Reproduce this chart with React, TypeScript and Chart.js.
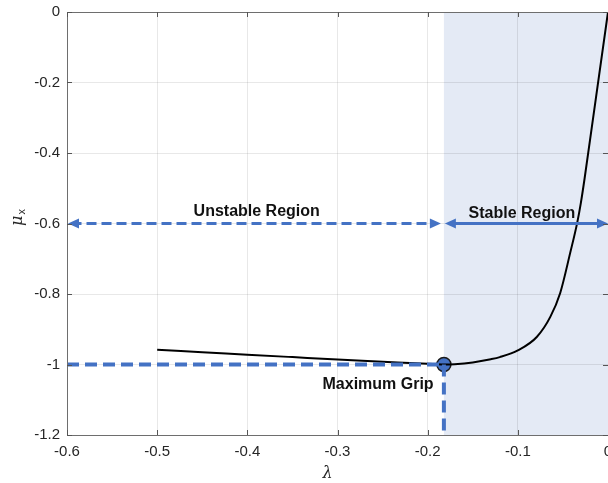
import React, { useEffect, useRef } from "react";
import { Chart, registerables } from "chart.js";

Chart.register(...registerables);

// Friction curve (slip λ vs. μx)
const lambdaValues = [-0.5, -0.45, -0.4, -0.35, -0.3, -0.25, -0.2, -0.182, -0.17, -0.15, -0.13, -0.12, -0.1, -0.079, -0.064, -0.053, -0.042, -0.034, -0.03, -0.026, -0.02, -0.01, 0];
const muValues = [-0.958, -0.965, -0.972, -0.979, -0.986, -0.992, -0.998, -1.0, -0.999, -0.994, -0.985, -0.979, -0.96, -0.922, -0.865, -0.797, -0.684, -0.596, -0.54, -0.473, -0.364, -0.182, 0];

// Key points
const maxGripLambda = -0.182;
const maxGripMu = -1.0;
const regionArrowMu = -0.6;

// Axes
const xTickValues = [-0.6, -0.5, -0.4, -0.3, -0.2, -0.1, 0];
const xTickLabels = ["-0.6", "-0.5", "-0.4", "-0.3", "-0.2", "-0.1", "0"];
const yTickValues = [0, -0.2, -0.4, -0.6, -0.8, -1, -1.2];
const yTickLabels = ["0", "-0.2", "-0.4", "-0.6", "-0.8", "-1", "-1.2"];

// Annotations
const labelTexts = ["Unstable Region", "Stable Region", "Maximum Grip"];
const labelX = [-0.3896, -0.0955, -0.255];
const labelY = [-0.565, -0.571, -1.058];

const BLUE = "#4472c4";

const overlayPlugin = {
  id: "overlay",
  beforeDraw(chart: any) {
    const { ctx, chartArea, scales } = chart;
    const x0 = scales.x.getPixelForValue(maxGripLambda);
    ctx.save();
    ctx.fillStyle = "#e4eaf5";
    ctx.fillRect(x0, chartArea.top, chartArea.right - x0, chartArea.bottom - chartArea.top);
    ctx.restore();
  },
  afterDatasetsDraw(chart: any) {
    const { ctx, chartArea, scales } = chart;
    const xs = scales.x;
    const ys = scales.y;
    ctx.save();
    // arrowheads
    const yA = ys.getPixelForValue(regionArrowMu);
    const xL = xs.getPixelForValue(-0.6);
    const xM = xs.getPixelForValue(maxGripLambda);
    const xR = xs.getPixelForValue(0);
    const head = (tip: number, dir: number) => {
      ctx.beginPath();
      ctx.moveTo(tip, yA);
      ctx.lineTo(tip - dir * 11, yA - 5);
      ctx.lineTo(tip - dir * 11, yA + 5);
      ctx.closePath();
      ctx.fillStyle = BLUE;
      ctx.fill();
    };
    head(xL + 1, -1);
    head(xM - 3, 1);
    head(xM + 1, -1);
    head(xR, 1);

    // texts
    ctx.fillStyle = "#111111";
    ctx.font = "bold 16px 'Liberation Sans', Arial, sans-serif";
    ctx.textAlign = "center";
    ctx.textBaseline = "middle";
    labelTexts.forEach((t, i) => {
      ctx.fillText(t, xs.getPixelForValue(labelX[i]), ys.getPixelForValue(labelY[i]));
    });

    // box
    ctx.strokeStyle = "#6e6e6e";
    ctx.lineWidth = 1;
    ctx.strokeRect(chartArea.left + 0.5, chartArea.top + 0.5, chartArea.right - chartArea.left, chartArea.bottom - chartArea.top);
    // inner tick marks
    ctx.strokeStyle = "#555555";
    ctx.beginPath();
    xTickValues.forEach((v) => {
      const p = Math.round(xs.getPixelForValue(v)) + 0.5;
      ctx.moveTo(p, chartArea.bottom);
      ctx.lineTo(p, chartArea.bottom - 5);
      ctx.moveTo(p, chartArea.top);
      ctx.lineTo(p, chartArea.top + 5);
    });
    yTickValues.forEach((v) => {
      const p = Math.round(ys.getPixelForValue(v)) + 0.5;
      ctx.moveTo(chartArea.left, p);
      ctx.lineTo(chartArea.left + 5, p);
      ctx.moveTo(chartArea.right, p);
      ctx.lineTo(chartArea.right - 5, p);
    });
    ctx.stroke();

    // axis titles
    ctx.fillStyle = "#262626";
    ctx.font = "italic 16px 'DejaVu Serif', 'Liberation Serif', serif";
    ctx.textAlign = "center";
    ctx.textBaseline = "middle";
    ctx.fillText("λ", (chartArea.left + chartArea.right) / 2 - 10, 474);
    ctx.translate(18, ys.getPixelForValue(-0.6) - 8);
    ctx.rotate(-Math.PI / 2);
    ctx.font = "italic 16px 'DejaVu Serif', 'Liberation Serif', serif";
    ctx.textAlign = "right";
    ctx.fillText("μ", 0, 0);
    ctx.font = "11px 'Liberation Sans', Arial, sans-serif";
    ctx.textAlign = "left";
    ctx.fillText("x", 1, 4);
    ctx.restore();
  },
};

export default function App() {
  const ref = useRef<HTMLCanvasElement | null>(null);
  useEffect(() => {
    if (!ref.current) return;
    const curve = lambdaValues.map((x, i) => ({ x, y: muValues[i] }));
    const chart = new Chart(ref.current, {
      type: "scatter",
      data: {
        datasets: [
          {
            data: [{ x: -0.6, y: maxGripMu }, { x: maxGripLambda, y: maxGripMu }],
            showLine: true,
            borderColor: BLUE,
            borderWidth: 4,
            borderDash: [12, 6],
            pointRadius: 0,
          },
          {
            data: [{ x: maxGripLambda, y: maxGripMu }, { x: maxGripLambda, y: -1.2 }],
            showLine: true,
            borderColor: BLUE,
            borderWidth: 4,
            borderDash: [12, 6],
            pointRadius: 0,
          },
          {
            data: [{ x: -0.595, y: regionArrowMu }, { x: maxGripLambda - 0.012, y: regionArrowMu }],
            showLine: true,
            borderColor: BLUE,
            borderWidth: 3,
            borderDash: [10, 5],
            pointRadius: 0,
          },
          {
            data: [{ x: maxGripLambda + 0.008, y: regionArrowMu }, { x: -0.006, y: regionArrowMu }],
            showLine: true,
            borderColor: BLUE,
            borderWidth: 3,
            pointRadius: 0,
          },
          {
            data: curve,
            showLine: true,
            borderColor: "#000000",
            borderWidth: 2,
            pointRadius: 0,
            cubicInterpolationMode: "monotone",
          },
          {
            data: [{ x: maxGripLambda, y: maxGripMu }],
            pointRadius: 7,
            pointBackgroundColor: BLUE,
            pointBorderColor: "#1a1a1a",
            pointBorderWidth: 1.5,
          },
        ],
      },
      options: {
        animation: false,
        responsive: true,
        maintainAspectRatio: false,
        layout: { padding: { left: 0, right: 32, top: 12, bottom: 0 } },
        plugins: { legend: { display: false }, tooltip: { enabled: false } },
        scales: {
          x: {
            type: "linear",
            min: -0.6,
            max: 0,
            afterBuildTicks: (s: any) => {
              s.ticks = xTickValues.map((v) => ({ value: v }));
            },
            afterFit: (s: any) => {
              s.height = 48;
              s.paddingLeft = 0;
              s.paddingRight = 0;
            },
            grid: { color: "rgba(0,0,0,0.09)", drawTicks: false },
            border: { display: false },
            ticks: {
              padding: 8,
              color: "#262626",
              font: { family: "'Liberation Sans', Arial, sans-serif", size: 15 },
              maxRotation: 0,
              autoSkip: false,
              callback: (v: any) => {
                const i = xTickValues.findIndex((t) => Math.abs(t - v) < 1e-9);
                return i >= 0 ? xTickLabels[i] : "";
              },
            },
          },
          y: {
            type: "linear",
            min: -1.2,
            max: 0,
            afterBuildTicks: (s: any) => {
              s.ticks = yTickValues.map((v) => ({ value: v }));
            },
            afterFit: (s: any) => {
              s.width = 67;
              s.paddingTop = 0;
              s.paddingBottom = 0;
            },
            grid: { color: "rgba(0,0,0,0.09)", drawTicks: false },
            border: { display: false },
            ticks: {
              padding: 7,
              color: "#262626",
              font: { family: "'Liberation Sans', Arial, sans-serif", size: 15 },
              autoSkip: false,
              callback: (v: any) => {
                const i = yTickValues.findIndex((t) => Math.abs(t - v) < 1e-9);
                return i >= 0 ? yTickLabels[i] : "";
              },
            },
          },
        },
      },
      plugins: [overlayPlugin],
    } as any);
    return () => chart.destroy();
  }, []);
  return (
    <div style={{ position: "fixed", left: 0, top: 0, width: 608, height: 483, overflow: "hidden", background: "#fff" }}>
      <div style={{ position: "relative", width: 640, height: 483 }}>
        <canvas ref={ref} />
      </div>
    </div>
  );
}
